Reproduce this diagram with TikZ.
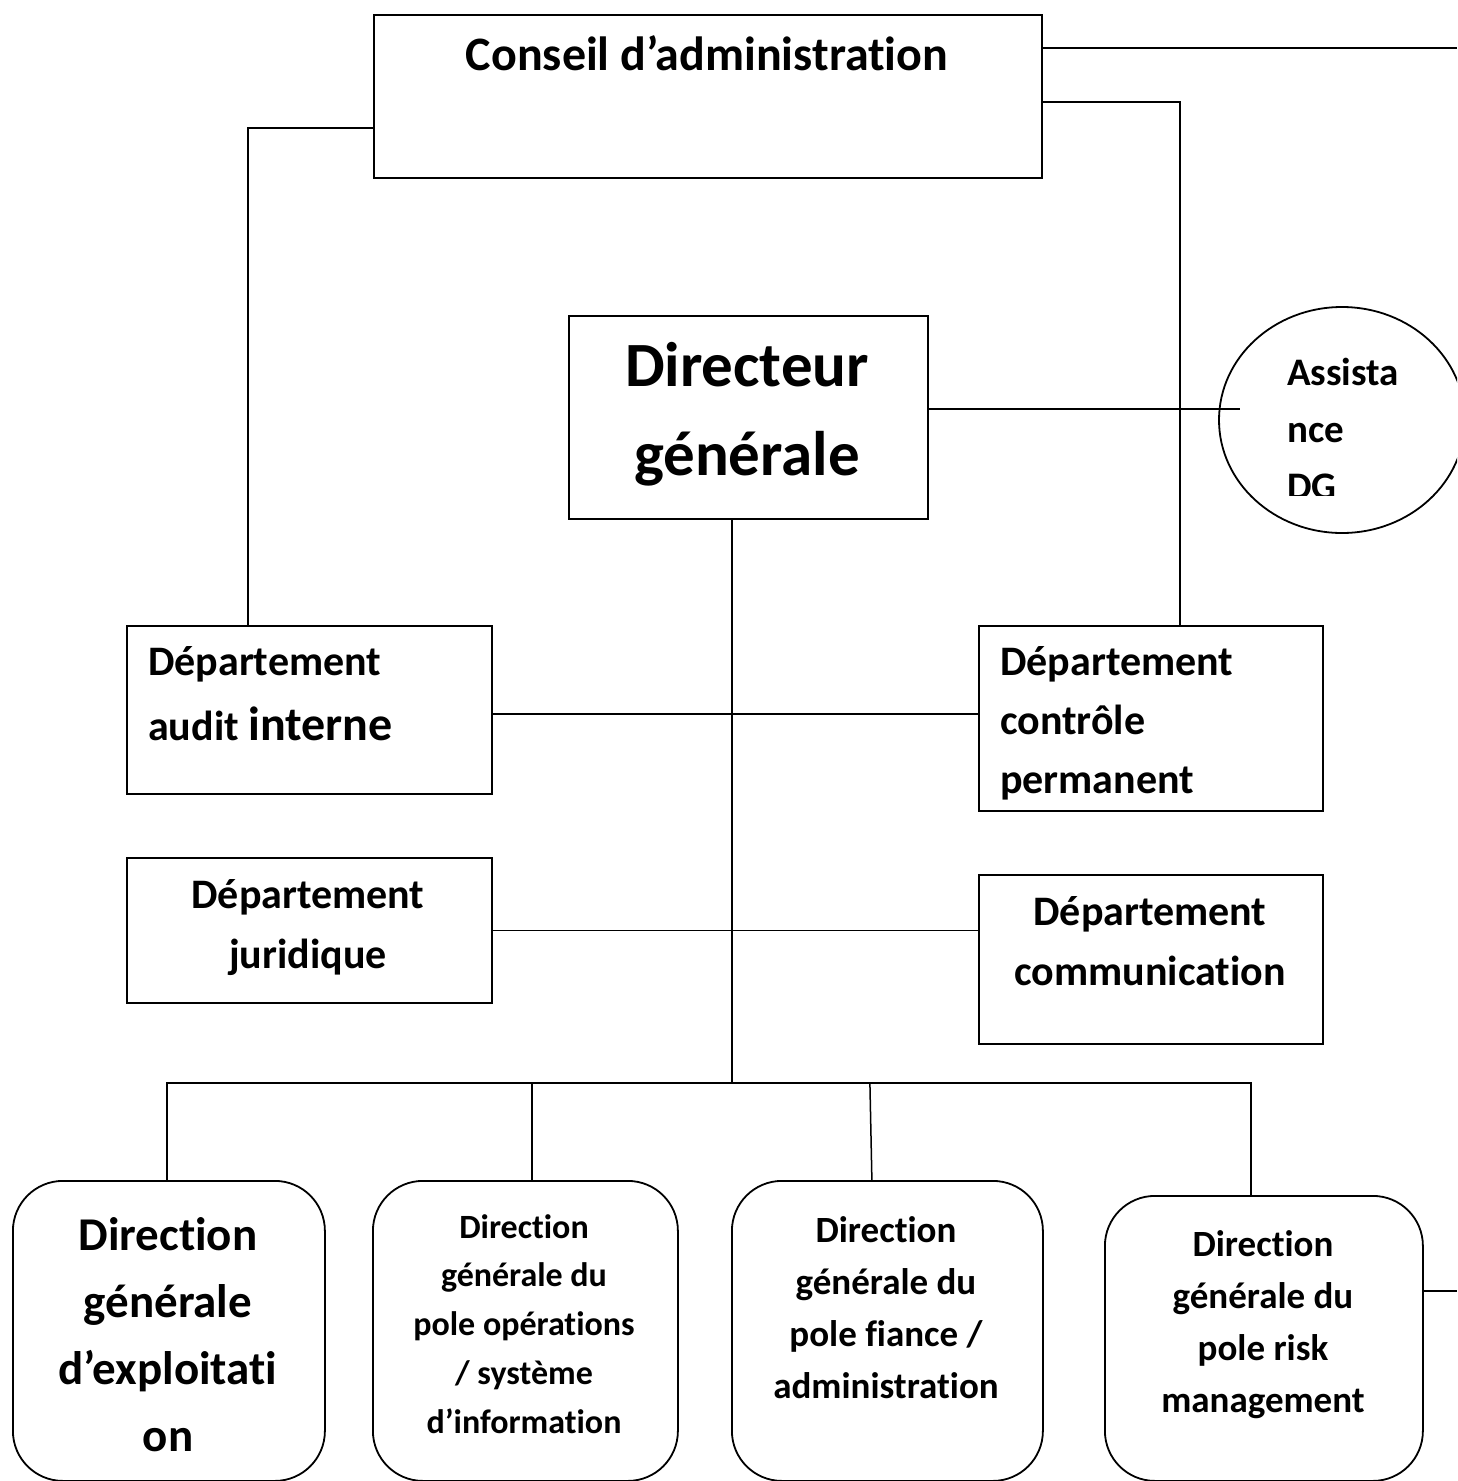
\documentclass[tikz,border=0pt]{standalone}
\usepackage{fontspec}
\setmainfont{Carlito}[Ligatures={NoCommon,NoRare,NoContextual}]
\usetikzlibrary{shapes.geometric}
\begin{document}
\begin{tikzpicture}[x=1pt,y=-1pt,
  lw/.style={line width=1.8pt},
  rbox/.style={draw, lw, inner sep=0pt, anchor=north west},
  pole/.style={rbox, rounded corners=50pt},
  conn/.style={line width=1.5pt},
  txt/.style={inner sep=0pt, align=center, anchor=base},
  ltxt/.style={inner sep=0pt, align=left, anchor=base west},
  fs/.style n args={2}{font=\bfseries\fontsize{#1}{#2}\selectfont},
]
\useasboundingbox (0,0) rectangle (1457,1481);
\clip (0,0) rectangle (1457,1481);
\fill[white] (0,0) rectangle (1457,1481);

% boxes
\node[rbox, minimum width=668pt, minimum height=163pt] (ca) at (373,14) {};
\node[rbox, minimum width=359pt, minimum height=203pt] (dg) at (568,315) {};
\node[draw, lw, ellipse, inner sep=0pt, minimum width=246pt, minimum height=226pt] (as) at (1342,420) {};
\node[rbox, minimum width=365pt, minimum height=168pt] (au) at (126,625) {};
\node[rbox, minimum width=344pt, minimum height=185pt] (cp) at (978,625) {};
\node[rbox, minimum width=365pt, minimum height=145pt] (ju) at (126,857) {};
\node[rbox, minimum width=344pt, minimum height=169pt] (co) at (978,874) {};
\node[pole, minimum width=312pt, minimum height=300pt] (b1) at (12,1180) {};
\node[pole, minimum width=305pt, minimum height=300pt] (b2) at (372,1180) {};
\node[pole, minimum width=311pt, minimum height=300pt] (b3) at (731,1180) {};
\node[pole, minimum width=318pt, minimum height=285pt] (b4) at (1104,1195) {};

% texts (anchor base = baseline of the last line)
\node[txt, fs={48}{56}] (tca) at (707,70) {Conseil d’administration};
\node[txt, fs={63}{89}] (tdg) at (747,475) {Directeur\\générale};
\begin{scope}
\clip (1200,300) rectangle (1457,495);
\node[ltxt, fs={39}{57}] (tas) at (1287,499) {Assista\\nce\\DG};
\end{scope}
\node[ltxt, fs={42}{65}] (tau) at (148,740) {Département\\audit {\fontsize{48}{65}\selectfont interne}};
\node[ltxt, fs={42}{59}] (tcp) at (1000,793) {Département\\contrôle\\permanent};
\node[txt, fs={42}{60}] (tju) at (308,968) {Département\\juridique};
\node[txt, fs={42}{60}] (tco) at (1150,985) {Département\\communication};
\node[txt, fs={47}{67}] (tb1) at (168,1451) {Direction\\générale\\d’exploitati\\on};
\node[txt, fs={34}{48.7}] (tb2) at (524,1433) {Direction\\générale du\\pole opérations\\/ système\\d’information};
\node[txt, fs={37}{52}] (tb3) at (886,1398) {Direction\\générale du\\pole fiance /\\administration};
\node[txt, fs={37}{52}] (tb4) at (1263,1412) {Direction\\générale du\\pole risk\\management};

% connectors
\coordinate (rt) at (1457,48);
\draw[conn] (ca.east |- rt) -- (rt);
\draw[conn] ([yshift=-88pt]ca.north east) -| ([xshift=29pt]cp.north);
\draw[conn] ([yshift=-114pt]ca.north west) -| ([xshift=-61.5pt]au.north);
\coordinate (asin) at (1240,409);
\draw[conn] (dg.east |- asin) -- (asin);
\coordinate (bus) at (732,1083);
\draw[conn] (dg.south -| bus) -- (bus);
\draw[conn] ([yshift=-4pt]au.east) -- ([yshift=4.5pt]cp.west);
\draw[conn] ([yshift=0pt]ju.east) -- ([yshift=29pt]co.west);
\draw[conn] ([xshift=-2pt]b1.north) |- (bus) -| ([xshift=-13pt]b4.north);
\draw[conn] ([xshift=6.5pt]b2.north) -- ([xshift=6.5pt]b2.north |- bus);
\draw[conn] ([xshift=-15.5pt]b3.north) -- ([xshift=-17.5pt]b3.north |- bus);
\coordinate (rb) at (1457,1291);
\draw[conn] (b4.east |- rb) -- (rb);
\end{tikzpicture}
\end{document}
